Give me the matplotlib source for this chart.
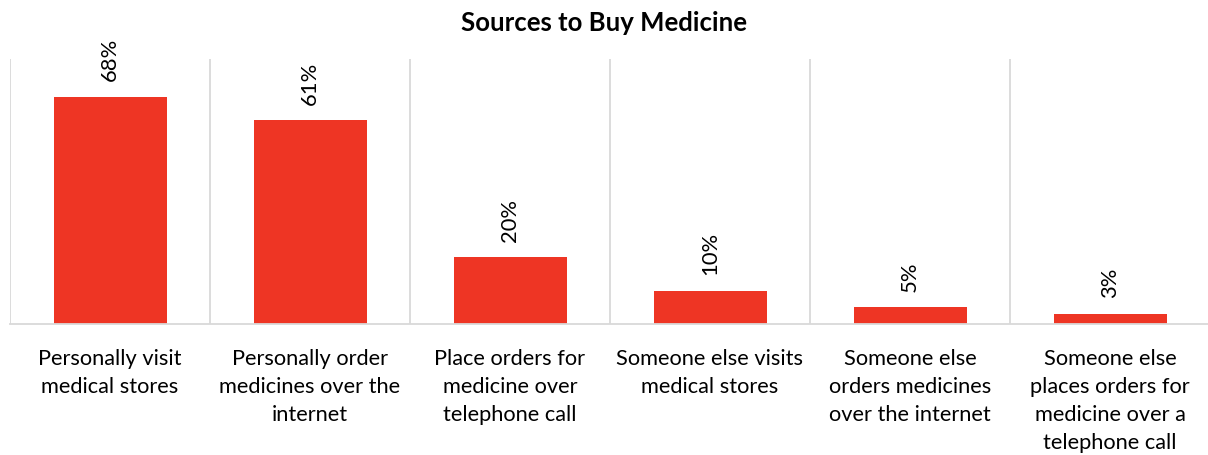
import matplotlib.pyplot as plt

plt.rcParams['font.family'] = ['Lato', 'DejaVu Sans']

categories = [
    "Personally visit\nmedical stores",
    "Personally order\nmedicines over the\ninternet",
    "Place orders for\nmedicine over\ntelephone call",
    "Someone else visits\nmedical stores",
    "Someone else\norders medicines\nover the internet",
    "Someone else\nplaces orders for\nmedicine over a\ntelephone call",
]
shares = [68, 61, 20, 10, 5, 3]

bar_color = "#EE3524"
grid_color = "#D9D9D9"

fig = plt.figure(figsize=(12.08, 4.56), dpi=100)
ax = fig.add_axes([10 / 1208, 1 - 325 / 456, 1200 / 1208, 265 / 456])

x = list(range(len(shares)))
bars = ax.bar(x, shares, width=0.565, color=bar_color, zorder=2)

ax.set_xlim(-0.5, len(shares) - 0.5)
ax.set_ylim(0, 79.4)

# category separators
for b in range(len(shares)):
    ax.axvline(b - 0.5, color=grid_color, lw=1.3, zorder=1)

for rect, v in zip(bars, shares):
    ax.annotate(f"{v}%", (rect.get_x() + rect.get_width() / 2, v),
                xytext=(0, 12), textcoords="offset points",
                rotation=90, ha="center", va="bottom", fontsize=15.8)

ax.set_xticks(x)
ax.set_xticklabels(categories, fontsize=15.7, linespacing=1.5, va="top")
ax.tick_params(axis="x", length=0, pad=17)
ax.set_yticks([])

for s in ["top", "right", "left"]:
    ax.spines[s].set_visible(False)
ax.spines["bottom"].set_color(grid_color)
ax.spines["bottom"].set_linewidth(1.3)

fig.text(0.5, 1 - 23 / 456, "Sources to Buy Medicine", ha="center", va="center",
         fontsize=18.5, fontweight="bold")

fig.savefig("out.png", dpi=100)
